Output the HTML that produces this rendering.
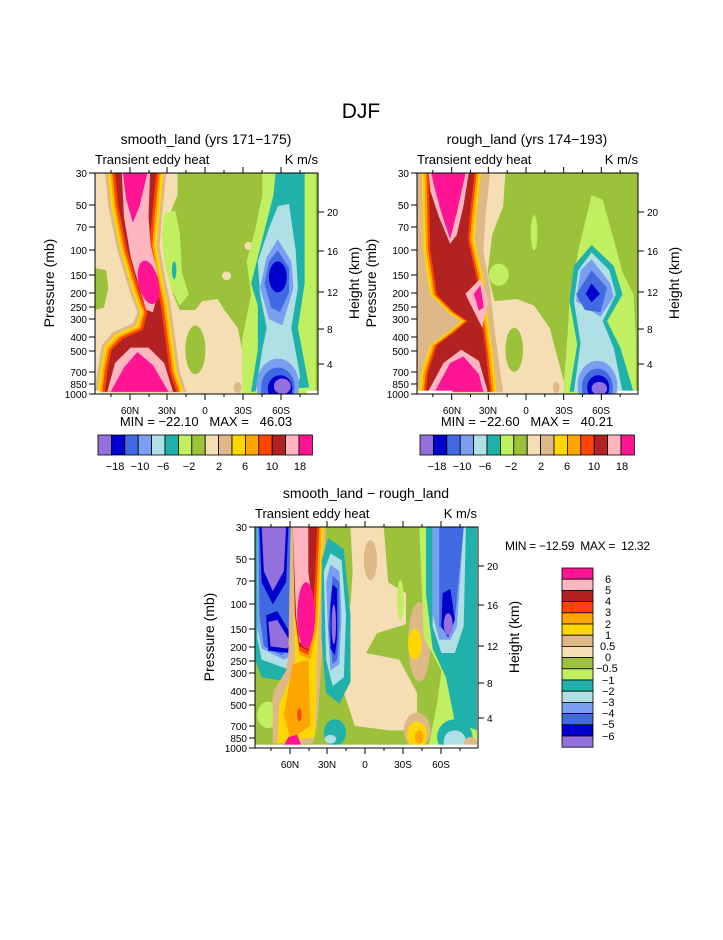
<!DOCTYPE html>
<html><head><meta charset="utf-8"><style>
body{margin:0;background:#fff}
svg text{font-family:"Liberation Sans",sans-serif;fill:#000;white-space:pre}
</style></head><body>
<svg width="723" height="935" xmlns="http://www.w3.org/2000/svg" xml:space="preserve">
<defs>
<g id="pax">
 <rect x="0" y="0" width="223" height="221" fill="none" stroke="#000" stroke-width="1"/>
 <g stroke="#000" stroke-width="1">
  <line x1="-6" y1="0" x2="0" y2="0"/><line x1="-6" y1="32" x2="0" y2="32"/><line x1="-6" y1="54" x2="0" y2="54"/>
  <line x1="-6" y1="77" x2="0" y2="77"/><line x1="-6" y1="102" x2="0" y2="102"/><line x1="-6" y1="120" x2="0" y2="120"/>
  <line x1="-6" y1="134" x2="0" y2="134"/><line x1="-6" y1="146" x2="0" y2="146"/><line x1="-6" y1="164" x2="0" y2="164"/>
  <line x1="-6" y1="178" x2="0" y2="178"/><line x1="-6" y1="199" x2="0" y2="199"/><line x1="-6" y1="211" x2="0" y2="211"/>
  <line x1="-6" y1="221" x2="0" y2="221"/>
  <line x1="223" y1="39" x2="229" y2="39"/><line x1="223" y1="78" x2="229" y2="78"/><line x1="223" y1="119" x2="229" y2="119"/>
  <line x1="223" y1="156" x2="229" y2="156"/><line x1="223" y1="191" x2="229" y2="191"/>
  <line x1="35" y1="221" x2="35" y2="227"/><line x1="72" y1="221" x2="72" y2="227"/><line x1="110" y1="221" x2="110" y2="227"/>
  <line x1="148" y1="221" x2="148" y2="227"/><line x1="186" y1="221" x2="186" y2="227"/>
  <line x1="16" y1="221" x2="16" y2="224"/><line x1="54" y1="221" x2="54" y2="224"/><line x1="91" y1="221" x2="91" y2="224"/>
  <line x1="129" y1="221" x2="129" y2="224"/><line x1="167" y1="221" x2="167" y2="224"/><line x1="205" y1="221" x2="205" y2="224"/>
  <line x1="35" y1="0" x2="35" y2="-6"/><line x1="72" y1="0" x2="72" y2="-6"/><line x1="110" y1="0" x2="110" y2="-6"/>
  <line x1="148" y1="0" x2="148" y2="-6"/><line x1="186" y1="0" x2="186" y2="-6"/>
  <line x1="16" y1="0" x2="16" y2="-3"/><line x1="54" y1="0" x2="54" y2="-3"/><line x1="91" y1="0" x2="91" y2="-3"/>
  <line x1="129" y1="0" x2="129" y2="-3"/><line x1="167" y1="0" x2="167" y2="-3"/><line x1="205" y1="0" x2="205" y2="-3"/>
 </g>
</g>
<symbol id="f1" viewBox="0 0 100 100" preserveAspectRatio="none">
 <rect width="100" height="100" fill="#9bc23a"/>
 <polygon points="0,0 37,0 37,10 33,20 32,40 35,55 38,62 45,62 48,58 55,57 58,62 64,70 67,85 70,100 0,100" fill="#f5deb3"/>
 <polygon points="0,43 5,44 6,52 4,61 0,62" fill="#9bc23a"/>
 <ellipse cx="45" cy="80" rx="4.5" ry="11" fill="#9bc23a"/>
 <ellipse cx="64" cy="97" rx="1.8" ry="2.5" fill="#deb887"/>
 <polygon points="31,18 36,17 38,27 39,45 42,55 38,60 34,52 31,40 30,28" fill="#c0f060"/>
 <ellipse cx="35.5" cy="44" rx="1" ry="4" fill="#20b2aa"/>
 <ellipse cx="69" cy="33" rx="2" ry="1.8" fill="#f5deb3"/><ellipse cx="59" cy="46.5" rx="2" ry="2" fill="#f5deb3"/>
 <polygon points="4.5,0 32,0 30,20 29,33 31,45 34,60 36,75 38,90 41,99 0,99 1,90 3,78 8,72 17,68 19,63 16,55 10,35 6,15" fill="#deb887"/>
 <polygon points="5.8,0 30.7,0 28.7,20 27.7,33 29.7,45 32.7,60 34.7,75 36.7,90 39.7,99 1.3,99 2.3,90 4.3,78.6 9.3,73 18.3,69 20.3,63 17.3,55 11.3,35 7.3,15" fill="#ffd700"/>
 <polygon points="6.9,0 29.6,0 27.6,20 26.6,33 28.6,45 31.6,60 33.6,75 35.6,90 38.6,99 2.4,99 3.4,90 5.4,79.2 10.4,73.7 19.4,69.7 21.4,63 18.4,55 12.4,35 8.4,15" fill="#ffa500"/>
 <polygon points="7.8,0 28.7,0 26.7,20 25.7,33 27.7,45 30.7,60 32.7,75 34.7,90 37.7,99 3.3,99 4.3,90 6.3,79.7 11.3,74.3 20.3,70.3 22.3,63 19.3,55 13.3,35 9.3,15" fill="#ff4500"/>
 <polygon points="9,0 27.5,0 25.5,20 24.5,33 26.5,45 29.5,60 31.5,75 33.5,90 36.5,99 4.5,99 5.5,90 7.5,80 12.5,75 21.5,71 23.5,63 20.5,55 14.5,35 10.5,15" fill="#b22222"/>
 <polygon points="12,0 24.7,0 24,20 25,33 28,45 28,55 26,63 23,62 20,52 16,38 13,20" fill="#ffb6c1"/>
 <polygon points="12.5,0 23.5,0 20,15 17,22.5 14,12" fill="#ff1493"/>
 <ellipse cx="24" cy="49.5" rx="4.5" ry="10" fill="#ff1493" transform="rotate(-12 24 49.5)"/>
 <polygon points="5.5,99 9,86 16,79 24,79 31,86 35,99" fill="#ffb6c1"/>
 <polygon points="7,99 13,88 19,81 26,87 33,99" fill="#ff1493"/>
 <polygon points="75,0 99,0 99,100 66,100 66,75 70,55 68,40 72,25 75,10" fill="#c0f060"/>
 <polygon points="99,0 100,0 100,100 99,100" fill="#9bc23a"/>
 <polygon points="81,0 94,0 94,50 91,70 96,97 70,99 73,80 73,60 70,50 75,30 80,10" fill="#20b2aa"/>
 <polygon points="82,15 87,14 90,35 91,52 88,70 92,92 90,99 72,99 75,80 77,70 74,55 73,40 78,25" fill="#b0e0e6"/>
 <polygon points="82,30 88,40 89,52 84,69 78,66 74,52 77,38" fill="#7b9ff0"/>
 <polygon points="82,35 87,43 87,54 83,63 79,61 76,50 78,40" fill="#4169e1"/>
 <ellipse cx="82" cy="47" rx="4" ry="7" fill="#0000cd"/>
 <ellipse cx="82" cy="96" rx="9.5" ry="12" fill="#7b9ff0"/>
 <ellipse cx="82" cy="97" rx="7.5" ry="9" fill="#4169e1"/>
 <ellipse cx="83" cy="97.5" rx="5.5" ry="6" fill="#0000cd"/>
 <ellipse cx="84" cy="96.5" rx="3.8" ry="3.5" fill="#9370db"/>
 <rect x="0" y="98.5" width="2" height="1.5" fill="#fff"/><rect x="95" y="98.5" width="5" height="1.5" fill="#fff"/>
</symbol>
<symbol id="f2" viewBox="0 0 100 100" preserveAspectRatio="none">
 <rect width="100" height="100" fill="#9bc23a"/>
 <polygon points="0,0 40,0 39,15 34,28 32,45 35,58 45,57 53,60 60,70 64,85 68,100 0,100" fill="#f5deb3"/>
 <ellipse cx="37" cy="46" rx="4.5" ry="5" fill="#c0f060"/>
 <ellipse cx="53" cy="27" rx="1.5" ry="8" fill="#c0f060"/>
 <ellipse cx="44" cy="80" rx="4" ry="10" fill="#9bc23a"/>
 <ellipse cx="63" cy="97" rx="1.5" ry="2.5" fill="#deb887"/>
 <polygon points="0,0 33,0 31,20 30,35 33,52 35,70 37,85 39,99 0,99" fill="#deb887"/>
 <polygon points="2.3,0 29,0 27,18 26,30 30,48 32,65 34,80 36,99 1,99 2,90 6,78 14,72 20,67 14,63 6,55 3,35" fill="#ffd700"/>
 <polygon points="3.3,0 28,0 26,18 25,30 29,48 31,65 33,80 35,99 2,99 3,90 7,78 15,72 21,67 15,63 7,55 4,35" fill="#ffa500"/>
 <polygon points="4.3,0 27,0 25,18 24,30 28,48 30,65 32,80 34,99 3,99 4,90 8,78 16,72 22,67 16,63 8,55 5,35" fill="#ff4500"/>
 <polygon points="5.3,0 26,0 24,18 23,30 27,48 29,65 31,80 33,99 4,99 5,90 9,78 17,72 23,67 17,63 9,55 6,35" fill="#b22222"/>
 <polygon points="5.3,0 23.4,0 21,15 18,28 15,32 10,20 6,8" fill="#ffb6c1"/>
 <polygon points="6.5,0 22,0 18,18 15,30 11,18 7.5,5" fill="#ff1493"/>
 <polygon points="21.9,54.7 28.7,47.8 32.5,57.7 29.5,70" fill="#ffb6c1"/>
 <polygon points="25.7,54.7 28.7,50.8 30.2,60.8 28,62.3" fill="#ff1493"/>
 <polygon points="5,99 12,86 20,80 28,85 32,99" fill="#ffb6c1"/>
 <polygon points="8,99 15,86 21,83 28,91 30,99" fill="#ff1493"/>
 <polygon points="79,10 84,12 89,30 93,45 98,55 99,75 99,100 66,100 68,75 69,58 73,35" fill="#c0f060"/>
 <polygon points="79,32.5 89,42 93,55 86,67 92,79 98,99 69,99 72.5,77.6 69,58 71,42" fill="#20b2aa"/>
 <polygon points="79,36 87,44 90,55 84,67 89,79 93,99 71,99 74,77 71,58 73,44" fill="#b0e0e6"/>
 <polygon points="79,39 87.5,50 89,56 83,65 72,58 74,44" fill="#7b9ff0"/>
 <polygon points="79,44 86,52 83,63 76,62 72,55" fill="#4169e1"/>
 <polygon points="79,50 82.8,54.7 79,58.5 76.3,54.7" fill="#0000cd"/>
 <ellipse cx="81.6" cy="96" rx="9" ry="11" fill="#7b9ff0"/>
 <ellipse cx="81.6" cy="97" rx="7" ry="8.5" fill="#4169e1"/>
 <ellipse cx="82" cy="97" rx="5" ry="5.5" fill="#0000cd"/>
 <ellipse cx="82.5" cy="97.5" rx="3.5" ry="3" fill="#9370db"/>
 <rect x="0" y="98.5" width="16" height="1.5" fill="#fff"/><rect x="91" y="98.5" width="9" height="1.5" fill="#fff"/>
</symbol>
<symbol id="f3" viewBox="0 0 100 100" preserveAspectRatio="none">
 <rect width="100" height="100" fill="#9bc23a"/>
 <polygon points="43,0 58,0 60,25 68,30 68,44 55,48 50,57 65,60 73,75 73,92 60,92 45,90 40,75 42,60 40,45 43,35 44,20" fill="#f5deb3"/>
 <ellipse cx="52" cy="15" rx="3" ry="9" fill="#deb887"/>
 <ellipse cx="74" cy="52" rx="5" ry="18" fill="#deb887"/><ellipse cx="72" cy="53" rx="3" ry="7" fill="#ffd700"/>
 <ellipse cx="6" cy="85" rx="5" ry="6" fill="#c0f060"/>
 <ellipse cx="65.5" cy="33" rx="1.5" ry="9" fill="#c0f060"/>
 <polygon points="0,0 21,0 22,45 24,60 15,70 3,68 0,60" fill="#20b2aa"/>
 <polygon points="1,0 20,0 21,45 22,58 14,64 3,60 1,50" fill="#b0e0e6"/>
 <polygon points="1,0 19,0 20,45 20,56 13,60 3,55 1,45" fill="#7b9ff0"/>
 <polygon points="1.5,0 18,0 18,52 12,58 4,54 2,40" fill="#4169e1"/>
 <polygon points="2,0 15,0 14,25 8,35 3,25" fill="#0000cd"/>
 <polygon points="3,0 14,0 13,20 8,29 4,20" fill="#9370db"/>
 <polygon points="5,40 10,38 17,50 16,57 6,56" fill="#0000cd"/>
 <polygon points="6,43 10,42 16,52 14.5,55 7,54" fill="#9370db"/>
 <polygon points="16,0 32,0 30,60 28,90 26,98 8,98 8,75 14,65 15,58" fill="#deb887"/>
 <polygon points="17,0 31,0 28,60 27,95 10,98 11,80 16,68 18,60" fill="#ffd700"/>
 <polygon points="17,62 24,60 25,90 16,96 13,85" fill="#ffa500"/>
 <ellipse cx="20" cy="85" rx="1" ry="3" fill="#ff4500"/>
 <polygon points="17,0 30,0 28,45 25,60 20,58 18,40" fill="#ffa500"/>
 <polygon points="17,0 29,0 27,45 24,58 20,56 18,40" fill="#ff4500"/>
 <polygon points="17,0 28,0 26,45 24,56 20,54 18,40" fill="#b22222"/>
 <polygon points="17,0 24,0 24,20 27,45 24,55 20,52 18.5,40" fill="#ffb6c1"/>
 <ellipse cx="23" cy="40" rx="4" ry="15" fill="#ff1493"/>
 <polygon points="13,99 15,95 19,94 21,99" fill="#ff1493"/>
 <polygon points="33,5 40,10 43,40 43,70 38,80 32,75 30,50 30,15" fill="#20b2aa"/>
 <polygon points="34,12 39,15 41,40 40,68 35,72 32,60 31,20" fill="#b0e0e6"/>
 <polygon points="34,17 38,20 39,40 38,62 34,65 33,50 32,25" fill="#7b9ff0"/>
 <polygon points="35,22 38,25 38,45 37,60 35,62 33,45" fill="#4169e1"/>
 <polygon points="35,26 37,28 37,50 36,58 34,55 34,35" fill="#0000cd"/>
 <ellipse cx="35.5" cy="44" rx="1" ry="9" fill="#9370db"/>
 <ellipse cx="36" cy="93" rx="5" ry="6" fill="#20b2aa"/><ellipse cx="34" cy="96" rx="2.5" ry="2" fill="#b0e0e6"/>
 <ellipse cx="73" cy="92" rx="6" ry="8" fill="#deb887"/><ellipse cx="73" cy="94" rx="4.5" ry="6" fill="#ffd700"/>
 <ellipse cx="74" cy="95" rx="2" ry="3" fill="#ffa500"/>
 <polygon points="74,0 100,0 100,100 78,100 82,80 84,65 76,50" fill="#c0f060"/>
 <polygon points="77,0 100,0 100,92 90,88 86,68 80,55 77,30" fill="#20b2aa"/>
 <polygon points="80,0 95,0 94,45 90,57 84,57 80,45" fill="#b0e0e6"/>
 <polygon points="80,0 94,0 91,45 88,51 83,51 80,40" fill="#7b9ff0"/>
 <polygon points="83,0 94,0 90,42 87,48 83,45" fill="#4169e1"/>
 <polygon points="84.5,30 88,28 90,42 87,50 84,45" fill="#0000cd"/>
 <ellipse cx="87" cy="44" rx="2" ry="5" fill="#9370db"/>
 <ellipse cx="90" cy="95" rx="8" ry="8" fill="#20b2aa"/><ellipse cx="90" cy="97" rx="5" ry="5" fill="#b0e0e6"/>
 <ellipse cx="97" cy="98" rx="3" ry="3" fill="#deb887"/>
 <rect x="0" y="98.5" width="100" height="1.5" fill="#fff"/>
</symbol>
</defs>

<text x="361" y="118" font-size="21" text-anchor="middle">DJF</text>

<g transform="translate(95,173)">
 <use href="#f1" x="0" y="0" width="223" height="221"/>
 <use href="#pax"/>
 <text x="111" y="-29" font-size="14" text-anchor="middle">smooth_land (yrs 171−175)</text>
 <text x="0" y="-9" font-size="13">Transient eddy heat</text>
 <text x="223" y="-9" font-size="13" text-anchor="end">K m/s</text>
 <g font-size="10" text-anchor="end">
  <text x="-8" y="4">30</text><text x="-8" y="36">50</text><text x="-8" y="58">70</text><text x="-8" y="81">100</text>
  <text x="-8" y="106">150</text><text x="-8" y="124">200</text><text x="-8" y="138">250</text><text x="-8" y="150">300</text>
  <text x="-8" y="168">400</text><text x="-8" y="182">500</text><text x="-8" y="203">700</text><text x="-8" y="215">850</text><text x="-8" y="225">1000</text>
 </g>
 <g font-size="10"><text x="232" y="43">20</text><text x="232" y="82">16</text><text x="232" y="123">12</text><text x="232" y="160">8</text><text x="232" y="195">4</text></g>
 <g font-size="10" text-anchor="middle"><text x="35" y="241">60N</text><text x="72" y="241">30N</text><text x="110" y="241">0</text><text x="148" y="241">30S</text><text x="186" y="241">60S</text></g>
 <text transform="translate(-41,110) rotate(-90)" font-size="14" text-anchor="middle">Pressure (mb)</text>
 <text transform="translate(264,110) rotate(-90)" font-size="14" text-anchor="middle">Height (km)</text>
 <text x="111" y="253" font-size="13" text-anchor="middle">MIN = −22.10   MAX =   46.03</text>
</g>

<g transform="translate(417,173)">
 <use href="#f2" x="0" y="0" width="221" height="221"/>
 <g transform="scale(0.991,1)"><use href="#pax"/></g>
 <text x="110" y="-29" font-size="14" text-anchor="middle">rough_land (yrs 174−193)</text>
 <text x="0" y="-9" font-size="13">Transient eddy heat</text>
 <text x="221" y="-9" font-size="13" text-anchor="end">K m/s</text>
 <g font-size="10" text-anchor="end">
  <text x="-8" y="4">30</text><text x="-8" y="36">50</text><text x="-8" y="58">70</text><text x="-8" y="81">100</text>
  <text x="-8" y="106">150</text><text x="-8" y="124">200</text><text x="-8" y="138">250</text><text x="-8" y="150">300</text>
  <text x="-8" y="168">400</text><text x="-8" y="182">500</text><text x="-8" y="203">700</text><text x="-8" y="215">850</text><text x="-8" y="225">1000</text>
 </g>
 <g font-size="10"><text x="230" y="43">20</text><text x="230" y="82">16</text><text x="230" y="123">12</text><text x="230" y="160">8</text><text x="230" y="195">4</text></g>
 <g font-size="10" text-anchor="middle"><text x="35" y="241">60N</text><text x="71" y="241">30N</text><text x="109" y="241">0</text><text x="147" y="241">30S</text><text x="184" y="241">60S</text></g>
 <text transform="translate(-41,110) rotate(-90)" font-size="14" text-anchor="middle">Pressure (mb)</text>
 <text transform="translate(262,110) rotate(-90)" font-size="14" text-anchor="middle">Height (km)</text>
 <text x="110" y="253" font-size="13" text-anchor="middle">MIN = −22.60   MAX =   40.21</text>
</g>

<g id="cbh" transform="translate(98,435)" stroke="#000" stroke-width="0.8">
 <rect x="0" width="13.4" height="20" fill="#9370db"/><rect x="13.4" width="13.4" height="20" fill="#0000cd"/>
 <rect x="26.8" width="13.4" height="20" fill="#4169e1"/><rect x="40.2" width="13.4" height="20" fill="#7b9ff0"/>
 <rect x="53.6" width="13.4" height="20" fill="#b0e0e6"/><rect x="67" width="13.4" height="20" fill="#20b2aa"/>
 <rect x="80.4" width="13.4" height="20" fill="#c0f060"/><rect x="93.8" width="13.4" height="20" fill="#9bc23a"/>
 <rect x="107.2" width="13.4" height="20" fill="#f5deb3"/><rect x="120.6" width="13.4" height="20" fill="#deb887"/>
 <rect x="134" width="13.4" height="20" fill="#ffd700"/><rect x="147.4" width="13.4" height="20" fill="#ffa500"/>
 <rect x="160.8" width="13.4" height="20" fill="#ff4500"/><rect x="174.2" width="13.4" height="20" fill="#b22222"/>
 <rect x="187.6" width="13.4" height="20" fill="#ffb6c1"/><rect x="201" width="13.4" height="20" fill="#ff1493"/>
</g>
<g font-size="11" text-anchor="middle">
 <text x="115" y="470">−18</text><text x="140" y="470">−10</text><text x="163" y="470">−6</text><text x="189" y="470">−2</text>
 <text x="219" y="470">2</text><text x="245" y="470">6</text><text x="272" y="470">10</text><text x="300" y="470">18</text>
</g>
<use href="#cbh" x="322" y="0"/>
<g font-size="11" text-anchor="middle">
 <text x="437" y="470">−18</text><text x="462" y="470">−10</text><text x="485" y="470">−6</text><text x="511" y="470">−2</text>
 <text x="541" y="470">2</text><text x="567" y="470">6</text><text x="594" y="470">10</text><text x="622" y="470">18</text>
</g>

<g transform="translate(255,527)">
 <use href="#f3" x="0" y="0" width="222" height="221"/>
 <use href="#pax"/>
 <text x="111" y="-29" font-size="14" text-anchor="middle">smooth_land − rough_land</text>
 <text x="0" y="-9" font-size="13">Transient eddy heat</text>
 <text x="222" y="-9" font-size="13" text-anchor="end">K m/s</text>
 <g font-size="10" text-anchor="end">
  <text x="-8" y="4">30</text><text x="-8" y="36">50</text><text x="-8" y="58">70</text><text x="-8" y="81">100</text>
  <text x="-8" y="106">150</text><text x="-8" y="124">200</text><text x="-8" y="138">250</text><text x="-8" y="150">300</text>
  <text x="-8" y="168">400</text><text x="-8" y="182">500</text><text x="-8" y="203">700</text><text x="-8" y="215">850</text><text x="-8" y="225">1000</text>
 </g>
 <g font-size="10"><text x="232" y="43">20</text><text x="232" y="82">16</text><text x="232" y="123">12</text><text x="232" y="160">8</text><text x="232" y="195">4</text></g>
 <g font-size="10" text-anchor="middle"><text x="35" y="241">60N</text><text x="72" y="241">30N</text><text x="110" y="241">0</text><text x="148" y="241">30S</text><text x="186" y="241">60S</text></g>
 <text transform="translate(-41,110) rotate(-90)" font-size="14" text-anchor="middle">Pressure (mb)</text>
 <text transform="translate(264,110) rotate(-90)" font-size="14" text-anchor="middle">Height (km)</text>
</g>
<text x="505" y="550" font-size="12" textLength="145">MIN = −12.59  MAX =  12.32</text>

<g transform="translate(562,568)" stroke="#000" stroke-width="0.8">
 <rect y="0" width="31" height="11.2" fill="#ff1493"/><rect y="11.2" width="31" height="11.2" fill="#ffb6c1"/>
 <rect y="22.4" width="31" height="11.2" fill="#b22222"/><rect y="33.6" width="31" height="11.2" fill="#ff4500"/>
 <rect y="44.8" width="31" height="11.2" fill="#ffa500"/><rect y="56" width="31" height="11.2" fill="#ffd700"/>
 <rect y="67.2" width="31" height="11.2" fill="#deb887"/><rect y="78.4" width="31" height="11.2" fill="#f5deb3"/>
 <rect y="89.6" width="31" height="11.2" fill="#9bc23a"/><rect y="100.8" width="31" height="11.2" fill="#c0f060"/>
 <rect y="112" width="31" height="11.2" fill="#20b2aa"/><rect y="123.2" width="31" height="11.2" fill="#b0e0e6"/>
 <rect y="134.4" width="31" height="11.2" fill="#7b9ff0"/><rect y="145.6" width="31" height="11.2" fill="#4169e1"/>
 <rect y="156.8" width="31" height="11.2" fill="#0000cd"/><rect y="168" width="31" height="11.2" fill="#9370db"/>
</g>
<g font-size="11">
 <text x="605" y="583">6</text><text x="605" y="594">5</text><text x="605" y="605">4</text><text x="605" y="616">3</text>
 <text x="605" y="628">2</text><text x="605" y="639">1</text><text x="600" y="650">0.5</text><text x="605" y="661">0</text>
 <text x="596" y="672">−0.5</text><text x="602" y="684">−1</text><text x="602" y="695">−2</text><text x="602" y="706">−3</text>
 <text x="602" y="717">−4</text><text x="602" y="728">−5</text><text x="602" y="740">−6</text>
</g>
</svg>
</body></html>
